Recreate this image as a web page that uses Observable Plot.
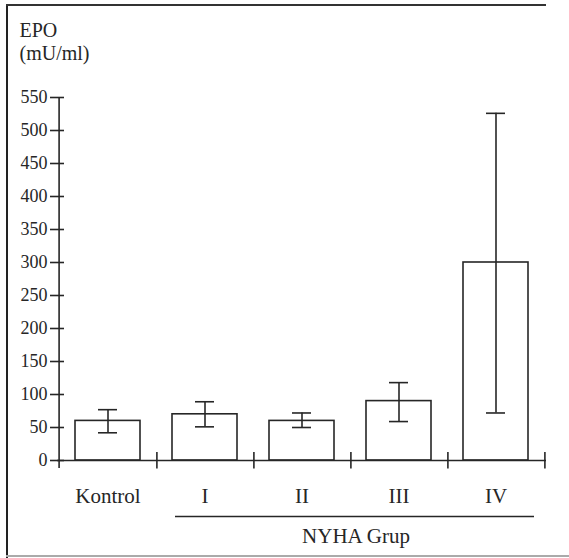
<!DOCTYPE html>
<html>
<head>
<meta charset="utf-8">
<script src="https://cdn.jsdelivr.net/npm/d3@7"></script>
<script src="https://cdn.jsdelivr.net/npm/@observablehq/plot@0.6"></script>
<style>
  html, body { margin: 0; padding: 0; background: #fff; }
  #wrap { position: relative; width: 569px; height: 558px; }
  #wrap svg { display: block; }
  .bl { position: absolute; left: 6px; top: 4px; width: 2px; height: 554px; background: #222; }
  .bt { position: absolute; left: 6px; top: 4px; width: 540px; height: 2px; background: #333; }
  .bb { position: absolute; left: 6px; top: 555px; width: 563px; height: 2px; background: #aaa; }
</style>
</head>
<body>
<div id="wrap"><div class="bl"></div><div class="bt"></div><div class="bb"></div></div>
<script>
const categories = ["Kontrol", "I", "II", "III", "IV"];
const means = [60, 70, 60, 90, 300];
const upper = [77, 89, 72, 118, 526];
const lower = [42, 51, 50, 59, 72];
const yTicks = [0, 50, 100, 150, 200, 250, 300, 350, 400, 450, 500, 550];
const groupLabel = "NYHA Grup";
const yLabel = "EPO\n(mU/ml)";

const data = categories.map((c, i) => ({group: c, mean: means[i], hi: upper[i], lo: lower[i]}));

const W = 569, H = 558, ML = 57, MR = 23, MT = 97, MB = 98;
const bw = (W - ML - MR) / categories.length;
const ink = "#262626";

const chart = Plot.plot({
  width: W, height: H,
  marginLeft: ML, marginRight: MR, marginTop: MT, marginBottom: MB,
  style: {fontFamily: "'Liberation Serif', 'Times New Roman', serif", background: "transparent", color: ink},
  x: {domain: categories, padding: 0, axis: null},
  y: {domain: [0, 550], axis: null},
  marks: [
    Plot.barY(data, {x: "group", y: "mean", fill: "white", stroke: ink, strokeWidth: 1.6, insetLeft: 16, insetRight: 16}),
    Plot.ruleX(data, {x: "group", y1: "lo", y2: "hi", stroke: ink, strokeWidth: 1.6}),
    Plot.tickY(data, {x: "group", y: "hi", stroke: ink, strokeWidth: 1.6, insetLeft: 39, insetRight: 39}),
    Plot.tickY(data, {x: "group", y: "lo", stroke: ink, strokeWidth: 1.6, insetLeft: 39, insetRight: 39}),
    Plot.ruleY([0], {stroke: ink, strokeWidth: 1.6}),
    Plot.ruleX(categories, {x: d => d, dx: bw / 2, y1: -13, y2: 12, stroke: ink, strokeWidth: 1.6}),
    Plot.ruleX([categories[0]], {x: d => d, dx: -bw / 2, y1: -12, y2: 550, stroke: ink, strokeWidth: 1.6}),
    Plot.axisY({ticks: yTicks, tickSize: 14, dx: 7, tickPadding: 3, fontSize: 18, label: null, stroke: ink, strokeWidth: 1.6}),
    Plot.text(categories, {x: d => d, y: 0, dy: 36, fontSize: 21, fill: ink}),
    Plot.ruleY([0], {x1: () => "I", x2: () => "IV", dy: 56, insetLeft: 19, insetRight: 10, stroke: ink, strokeWidth: 1.4}),
    Plot.text([groupLabel], {x: () => "III", y: 0, dx: -43, dy: 76, fontSize: 21, fill: ink}),
    Plot.text([yLabel], {frameAnchor: "top-left", textAnchor: "start", dx: -38, dy: -77, fontSize: 20, lineHeight: 1.15, fill: ink})
  ]
});
document.getElementById("wrap").prepend(chart);
</script>
</body>
</html>
